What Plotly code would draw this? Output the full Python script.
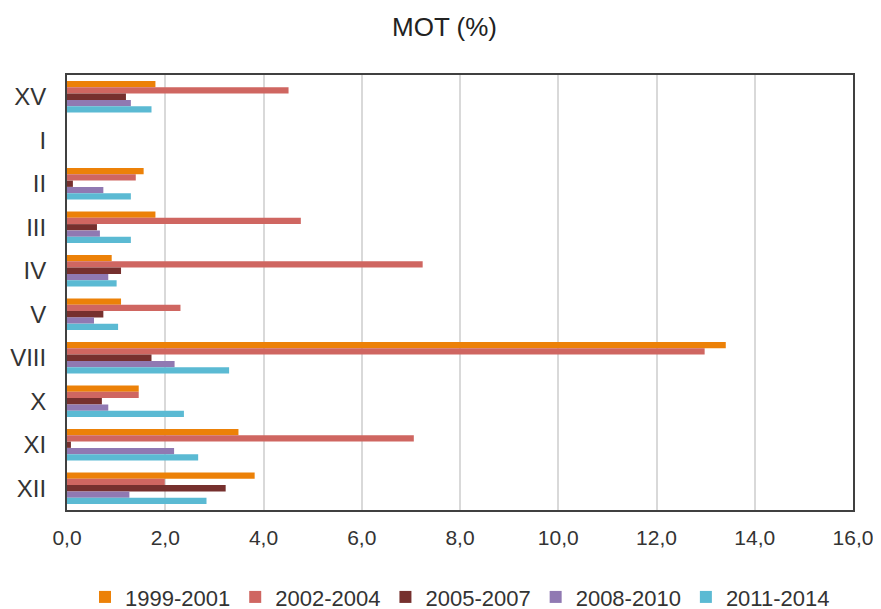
import plotly.graph_objects as go

categories = ["XV", "I", "II", "III", "IV", "V", "VIII", "X", "XI", "XII"]
series_names = ["1999-2001", "2002-2004", "2005-2007", "2008-2010", "2011-2014"]
s1999 = [1.80, None, 1.56, 1.80, 0.91, 1.10, 13.41, 1.46, 3.49, 3.82]
s2002 = [4.51, None, 1.40, 4.76, 7.24, 2.31, 12.98, 1.46, 7.06, 1.99]
s2005 = [1.20, None, 0.12, 0.61, 1.10, 0.74, 1.72, 0.71, 0.08, 3.23]
s2008 = [1.30, None, 0.74, 0.67, 0.84, 0.55, 2.19, 0.84, 2.18, 1.27]
s2011 = [1.72, None, 1.30, 1.30, 1.01, 1.04, 3.30, 2.38, 2.67, 2.84]
colors = ["#EC8108", "#CF6661", "#76302E", "#9079B2", "#5BBAD3"]

fig = go.Figure()
for name, vals, col in zip(series_names, [s1999, s2002, s2005, s2008, s2011], colors):
    fig.add_trace(go.Bar(
        y=categories, x=vals, name=name, orientation="h",
        marker=dict(color=col, line=dict(width=0)),
    ))

fig.update_layout(
    width=873, height=601,
    template="plotly_white",
    paper_bgcolor="white", plot_bgcolor="white",
    font=dict(family="Liberation Sans, Arial, sans-serif", size=21, color="#333333"),
    title=dict(text="MOT (%)", x=0.5, xanchor="center", y=0.968, yanchor="middle",
               font=dict(size=26, color="#222222")),
    margin=dict(l=59, r=28, t=67, b=99, autoexpand=False),
    barmode="group", bargap=0.28, bargroupgap=0,
    separators=",.",
    showlegend=True,
    legend=dict(orientation="h", x=0.5, xanchor="center", y=-0.152, yanchor="top",
                font=dict(size=22, color="#333333"), itemwidth=30, tracegroupgap=0),
    xaxis=dict(range=[0, 16], dtick=2, tickformat=".1f",
               showgrid=True, gridcolor="#D9D9D9", gridwidth=1.5,
               zeroline=False, showline=True, linecolor="#404040", linewidth=2,
               mirror=True, ticks="", tickfont=dict(size=21), ticklabelstandoff=8,
               automargin=False),
    yaxis=dict(autorange="reversed", showgrid=False, showline=True,
               linecolor="#404040", linewidth=2, mirror=True, ticks="",
               tickfont=dict(size=24), ticklabelstandoff=14, automargin=False),
)

fig.write_html("out.html")
